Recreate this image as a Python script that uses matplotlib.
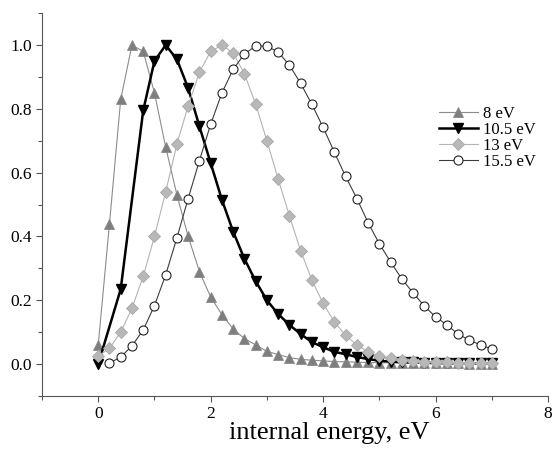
import numpy as np
import matplotlib
matplotlib.use("Agg")
import matplotlib.pyplot as plt

plt.rcParams['font.family'] = ['Liberation Serif', 'DejaVu Serif']

x_grid = [0.0, 0.2, 0.4, 0.6, 0.8, 1.0, 1.2, 1.4, 1.6, 1.8, 2.0, 2.2, 2.4, 2.6, 2.8,
          3.0, 3.2, 3.4, 3.6, 3.8, 4.0, 4.2, 4.4, 4.6, 4.8, 5.0, 5.2, 5.4, 5.6, 5.8,
          6.0, 6.2, 6.4, 6.6, 6.8, 7.0]

y_8 = [0.06, 0.44, 0.83, 1.00, 0.98, 0.85, 0.68, 0.53, 0.40, 0.29, 0.21, 0.155, 0.11,
       0.08, 0.06, 0.04, 0.03, 0.02, 0.015, 0.012, 0.010, 0.008, 0.007, 0.006, 0.005,
       0.004, 0.004, 0.003, 0.003, 0.003, 0.002, 0.002, 0.002, 0.001, 0.001, 0.001]

x_105 = [0.0, 0.4, 0.8, 1.0, 1.2, 1.4, 1.6, 1.8, 2.0, 2.2, 2.4, 2.6, 2.8,
         3.0, 3.2, 3.4, 3.6, 3.8, 4.0, 4.2, 4.4, 4.6, 4.8, 5.0, 5.2, 5.4, 5.6, 5.8,
         6.0, 6.2, 6.4, 6.6, 6.8, 7.0]
y_105 = [0.0, 0.235, 0.795, 0.95, 1.0, 0.955, 0.865, 0.745, 0.63, 0.515, 0.415, 0.33,
         0.26, 0.20, 0.157, 0.123, 0.094, 0.069, 0.053, 0.038, 0.031, 0.022, 0.016,
         0.010, 0.008, 0.006, 0.005, 0.004, 0.003, 0.003, 0.002, 0.002, 0.002, 0.002]

y_13 = [0.025, 0.05, 0.10, 0.175, 0.275, 0.40, 0.54, 0.69, 0.81, 0.915, 0.98, 1.0, 0.975,
        0.91, 0.815, 0.70, 0.58, 0.465, 0.355, 0.264, 0.19, 0.132, 0.09, 0.06, 0.038,
        0.025, 0.018, 0.012, 0.009, 0.007, 0.006, 0.005, 0.004, 0.004, 0.003, 0.003]

x_155 = x_grid[1:]
y_155 = [0.003, 0.022, 0.057, 0.107, 0.183, 0.28, 0.396, 0.519, 0.638, 0.752, 0.85,
         0.924, 0.972, 0.997, 0.997, 0.978, 0.937, 0.88, 0.814, 0.742, 0.664, 0.588,
         0.519, 0.443, 0.377, 0.32, 0.267, 0.223, 0.182, 0.148, 0.123, 0.094, 0.075,
         0.06, 0.047]

labels = ['8 eV', '10.5 eV', '13 eV', '15.5 eV']

fig = plt.figure(figsize=(5.52, 4.54), dpi=100)
ax = fig.add_axes([0.0761, 0.1278, 0.9167, 0.8432])

ax.plot(x_grid, y_8, color='#8c8c8c', lw=0.8, marker='^', ms=6.5,
        mfc='#7e7e7e', mec='#8a8a8a', mew=0.6, label=labels[0])
ax.plot(x_105, y_105, color='black', lw=1.8, marker='v', ms=7.5,
        mfc='black', mec='black', label=labels[1])
ax.plot(x_grid, y_13, color='#b4b4b4', lw=0.8, marker='D', ms=6,
        mfc='#b8b8b8', mec='#a8a8a8', mew=0.6, label=labels[2])
ax.plot(x_155, y_155, color='#3c3c3c', lw=0.8, marker='o', ms=6.5,
        mfc='white', mec='#222222', mew=0.8, label=labels[3])

ax.set_xlim(-1, 8)
ax.set_ylim(-0.1, 1.1)
ax.set_xticks([0, 2, 4, 6, 8])
ax.set_xticks([-1, 1, 3, 5, 7], minor=True)
ax.set_yticks([0.0, 0.2, 0.4, 0.6, 0.8, 1.0])
ax.set_yticks([-0.1, 0.1, 0.3, 0.5, 0.7, 0.9, 1.1], minor=True)
ax.set_yticklabels(['0.0', '0.2', '0.4', '0.6', '0.8', '1.0'])

for s in ['top', 'right']:
    ax.spines[s].set_visible(False)
for s in ['left', 'bottom']:
    ax.spines[s].set_color('#555555')
    ax.spines[s].set_linewidth(0.8)

ax.tick_params(which='major', direction='out', length=4, width=0.8, color='#555555',
               labelsize=12.5, pad=3)
ax.tick_params(which='minor', direction='out', length=3, width=0.8, color='#555555')

ax.set_xlabel('internal energy, eV', fontsize=19, labelpad=0, x=0.567)

leg = ax.legend(loc='center left', bbox_to_anchor=(0.795, 0.697),
                bbox_transform=fig.transFigure, frameon=False, fontsize=12,
                handlelength=2.35, handletextpad=0.3, labelspacing=0.0,
                borderpad=0, borderaxespad=0)

fig.savefig('out.png', dpi=100)
